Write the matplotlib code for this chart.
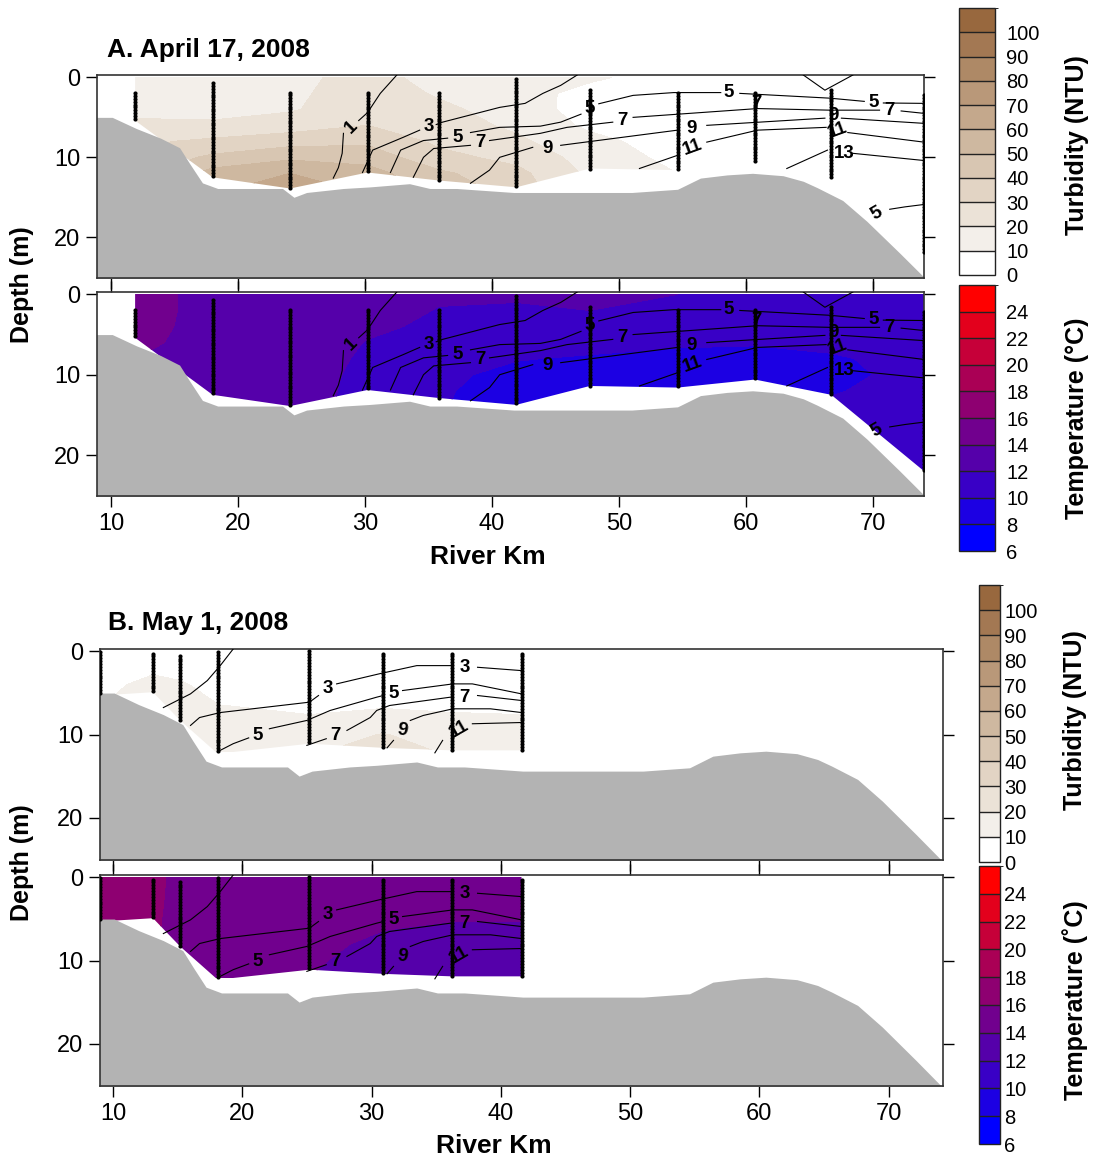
import numpy as np
import matplotlib as mpl
import matplotlib.pyplot as plt
from matplotlib.colors import ListedColormap, BoundaryNorm
from matplotlib.patches import Polygon

plt.rcParams['font.family'] = ['Liberation Sans', 'DejaVu Sans']
nan = np.nan

# bottom profile of the river (km, depth m)
bath_km = [8.5, 10.1, 12.0, 13.9, 15.4, 16.2, 17.2, 18.4, 23.5, 24.4, 25.4, 28.3, 30.4, 33.5,
           35.1, 37.2, 41.7, 51.0, 54.6, 56.4, 58.5, 60.5, 62.9, 64.5, 65.6, 67.6, 69.5, 72.1,
           74.0, 75.0]
bath_z = [5.0, 5.0, 6.4, 7.6, 8.8, 10.8, 13.2, 13.9, 13.9, 15.0, 14.4, 13.9, 13.7, 13.3,
          13.9, 13.9, 14.4, 14.4, 14.0, 12.6, 12.2, 12.0, 12.3, 13.0, 13.8, 15.4, 18.0, 22.0,
          25.0, 26.5]

# ---------------- A. April 17, 2008 ----------------
a_km = [11.9, 18.0, 24.1, 30.2, 35.8, 41.9, 47.7, 54.6, 60.7, 66.7, 74.0]
a_top = [2.0, 0.75, 1.9, 1.9, 2.0, 0.25, 1.6, 2.0, 2.0, 1.6, 2.25]
a_bot = [5.4, 12.5, 13.9, 11.9, 12.9, 13.75, 11.4, 11.6, 10.6, 12.5, 22.0]
a_depth = [0, 2, 4, 6, 8, 10, 12, 14, 16, 18, 20, 22]

# turbidity (NTU), one profile per station
a_turb = [
    [15, 15, 16, 23, 28, 32, 35, 38, 40, 40, 40, 40],
    [14, 14, 16, 22, 32, 42, 54, 58, 60, 60, 60, 60],
    [17, 18, 19, 25, 36, 48, 60, 66, 66, 66, 66, 66],
    [24, 25, 26, 30, 38, 46, 54, 58, 58, 58, 58, 58],
    [16, 19, 22, 25, 28, 33, 42, 46, 46, 46, 46, 46],
    [14, 15, 16, 18, 22, 27, 33, 36, 36, 36, 36, 36],
    [12, 6, 5, 8, 13, 16, 18, 18, 18, 18, 18, 18],
    [4, 4, 4, 4, 5, 7, 10, 11, 11, 11, 11, 11],
    [4, 4, 4, 4, 4, 5, 5, 5, 5, 5, 5, 5],
    [4, 4, 4, 4, 4, 4, 4, 4, 4, 4, 4, 4],
    [4, 4, 4, 4, 4, 4, 4, 4, 4, 4, 4, 4],
]
# temperature (deg C), one profile per station
a_temp = [
    [14.6, 14.6, 14.5, 14.3, 14.0, 13.6, 13.5, 13.5, 13.5, 13.5, 13.5, 13.5],
    [13.5, 13.5, 13.5, 13.5, 13.5, 13.5, 13.5, 13.5, 13.5, 13.5, 13.5, 13.5],
    [13.4, 13.4, 13.4, 13.4, 13.4, 13.4, 13.4, 13.4, 13.4, 13.4, 13.4, 13.4],
    [13.3, 12.9, 12.4, 11.9, 11.6, 11.3, 11.1, 11.0, 11.0, 11.0, 11.0, 11.0],
    [12.3, 11.9, 11.6, 11.2, 10.8, 10.4, 10.2, 10.1, 10.1, 10.1, 10.1, 10.1],
    [12.2, 11.8, 11.3, 10.7, 10.1, 9.5, 9.3, 9.3, 9.3, 9.3, 9.3, 9.3],
    [12.4, 12.0, 11.3, 10.6, 9.8, 9.3, 9.2, 9.2, 9.2, 9.2, 9.2, 9.2],
    [12.0, 11.5, 10.9, 10.2, 9.6, 9.3, 9.2, 9.2, 9.2, 9.2, 9.2, 9.2],
    [11.6, 11.2, 10.7, 10.1, 9.6, 9.4, 9.3, 9.3, 9.3, 9.3, 9.3, 9.3],
    [11.5, 11.2, 10.8, 10.4, 9.8, 9.6, 9.9, 10.2, 10.4, 10.5, 10.6, 10.7],
    [11.3, 11.2, 11.0, 10.8, 10.6, 10.5, 10.5, 10.5, 10.6, 10.7, 10.8, 10.9],
]

# salinity isolines (km, depth), gaps where the labels sit
a_s1_km = [32.5, 31.2, 30.2, 29.5, nan, 28.3, 28.2, 27.9, 27.5]
a_s1_z = [-0.3, 2.0, 4.4, 5.4, nan, 7.0, 9.5, 11.3, 12.6]
a_s3_km = [29.8, 30.6, 33.0, 34.3, nan, 35.6, 36.1, 40.6, 42.6, 44.0, 45.4, 46.7]
a_s3_z = [11.9, 9.1, 7.5, 6.6, nan, 5.9, 5.6, 3.75, 3.25, 2.0, 1.0, -0.3]
a_s5_km = [32.0, 32.8, 34.6, 36.5, nan, 38.3, 40.6, 43.8, 45.4, 47.0, nan, 48.4, 51.1, 54.3,
           58.0, nan, 59.5, 66.6, 69.3, nan, 70.8, 74.0]
a_s5_z = [11.9, 9.1, 7.9, 7.6, nan, 6.9, 6.25, 6.1, 5.6, 4.6, nan, 3.3, 2.25, 1.9, 1.9, nan,
          2.0, 2.6, 3.0, nan, 3.2, 3.25]
a_s7_km = [33.8, 34.6, 35.4, 38.3, nan, 39.8, 43.8, 45.9, 49.5, nan, 51.1, 60.9, 66.6, 70.5,
           nan, 72.2, 74.0]
a_s7_z = [12.5, 10.0, 8.9, 8.5, nan, 7.9, 7.0, 6.25, 5.6, nan, 5.0, 3.9, 4.1, 4.1, nan, 4.2,
          4.5]
a_s9_km = [38.3, 39.8, 40.6, 43.2, nan, 45.4, 54.6, nan, 56.9, 66.2, nan, 67.5, 74.0]
a_s9_z = [13.25, 11.6, 10.0, 8.75, nan, 8.5, 6.6, nan, 6.0, 5.1, nan, 5.1, 5.75]
a_s11_km = [51.6, 54.6, nan, 56.9, 60.9, 66.3, nan, 68.0, 74.0]
a_s11_z = [11.4, 9.75, nan, 8.1, 6.6, 6.25, nan, 6.9, 8.1]
a_s13_km = [63.2, 66.4, nan, 68.4, 74.0]
a_s13_z = [11.4, 9.1, nan, 9.5, 10.4]
a_s15_km = [71.3, 72.5, 74.0]
a_s15_z = [16.5, 16.2, 15.9]
a_s3b_km = [64.5, 66.2, 68.4]
a_s3b_z = [-0.3, 1.6, -0.3]

a_lab_text = ['1', '3', '5', '5', '5', '5', '7', '7', '7', '7', '9', '9', '9', '11', '11',
              '13', '5']
a_lab_km = [28.9, 35.0, 37.3, 47.7, 58.6, 70.0, 39.1, 50.3, 60.8, 71.3, 44.4, 55.7, 66.85,
            55.8, 67.2, 67.7, 70.3]
a_lab_z = [6.2, 6.2, 7.5, 3.9, 1.9, 3.1, 8.1, 5.4, 3.3, 4.1, 8.9, 6.4, 4.75, 8.75, 6.6, 9.5,
           17.0]
a_lab_rot = [45, 0, 0, 0, 0, 0, 0, 0, 0, 0, 0, 0, 0, 20, 20, 0, 30]

# ---------------- B. May 1, 2008 ----------------
b_km = [9.0, 13.1, 15.2, 18.1, 25.2, 30.9, 36.2, 41.6]
b_top = [0.1, 0.25, 0.5, 0.1, 0.0, 0.25, 0.25, 0.25]
b_bot = [5.3, 4.9, 8.3, 12.3, 11.1, 11.6, 11.9, 11.9]
b_depth = [0, 2, 4, 6, 8, 10, 12]

b_turb = [
    [4, 5, 7, 9, 10, 10, 10],
    [5, 8, 13, 15, 15, 15, 15],
    [5, 7, 11, 14, 15, 15, 15],
    [4, 5, 7, 9.5, 12, 13, 13],
    [3, 4, 6, 8, 10.5, 15, 19],
    [3, 4, 6, 8.5, 12, 20.5, 23],
    [3, 4, 6, 8, 11, 15, 19],
    [3, 4, 6, 8, 10.5, 13, 14],
]
b_temp = [
    [17.0, 17.0, 16.8, 16.6, 16.5, 16.5, 16.5],
    [16.6, 16.6, 16.5, 16.4, 16.3, 16.3, 16.3],
    [15.3, 15.2, 15.1, 15.0, 14.9, 14.8, 14.8],
    [15.0, 15.0, 14.9, 14.8, 14.7, 14.6, 14.5],
    [15.0, 15.0, 14.9, 14.7, 14.5, 14.2, 14.0],
    [15.0, 14.9, 14.6, 14.1, 13.6, 13.4, 13.3],
    [14.9, 14.7, 14.4, 13.8, 13.4, 13.2, 13.2],
    [14.9, 14.7, 14.4, 13.8, 13.4, 13.2, 13.2],
]

b_s1_km = [19.3, 18.3, 17.3, 16.0, 13.9]
b_s1_z = [-0.3, 1.7, 3.5, 5.1, 6.75]
b_s3_km = [16.0, 16.7, 18.3, 25.2, 25.9, nan, 27.3, 30.7, 33.5, 36.2, nan, 38.2, 41.6]
b_s3_z = [8.9, 7.95, 7.35, 6.1, 5.3, nan, 3.9, 2.65, 1.7, 1.7, nan, 1.9, 2.3]
b_s5_km = [18.3, 19.3, 20.5, nan, 22.1, 25.0, 26.8, 30.4, 30.9, nan, 32.4, 36.3, 37.8, 41.6]
b_s5_z = [11.9, 11.1, 10.4, nan, 9.3, 8.3, 7.1, 5.5, 5.3, nan, 4.7, 3.9, 3.9, 5.1]
b_s7_km = [25.0, 26.5, nan, 28.1, 29.9, 30.4, 31.4, 36.1, nan, 38.2, 41.6]
b_s7_z = [11.3, 10.5, nan, 9.5, 7.95, 7.1, 6.5, 5.5, nan, 5.3, 5.9]
b_s9_km = [31.2, 31.7, nan, 33.0, 34.0, 36.3, 39.2, 41.6]
b_s9_z = [11.6, 10.7, nan, 8.3, 7.7, 6.9, 6.9, 7.35]
b_s11_km = [34.9, 35.5, nan, 37.8, 41.6]
b_s11_z = [12.2, 10.7, nan, 8.7, 8.55]

b_lab_text = ['3', '3', '5', '5', '7', '7', '9', '11']
b_lab_km = [26.6, 37.2, 21.2, 31.7, 27.2, 37.2, 32.35, 36.8]
b_lab_z = [4.5, 1.9, 10.1, 5.1, 10.1, 5.5, 9.5, 9.3]
b_lab_rot = [0, 0, 0, 0, 0, 0, -10, 30]

# ---------------- colour scales ----------------
turb_levels = list(range(0, 120, 10))
turb_colors = ['#ffffff', '#f3efea', '#ebe2d7', '#e2d4c4', '#d8c6b2', '#ceb8a0', '#c4a88c',
               '#b99879', '#ae8966', '#a37853', '#98683e']
temp_levels = list(range(6, 28, 2))
temp_colors = ['#0000ff', '#1c00e3', '#3900c6', '#5500aa', '#71008e', '#8e0071', '#aa0055',
               '#c60039', '#e3001c', '#ff0000']
turb_cmap = ListedColormap(turb_colors)
turb_norm = BoundaryNorm(turb_levels, turb_cmap.N)
temp_cmap = ListedColormap(temp_colors)
temp_norm = BoundaryNorm(temp_levels, temp_cmap.N)

W, H = 1097, 1162
fig = plt.figure(figsize=(W / 100, H / 100), dpi=100)


def box(x0, y0, x1, y1):
    return [x0 / W, 1 - y1 / H, (x1 - x0) / W, (y1 - y0) / H]


def panel(ax, km, top, bot, depth, field, cmap, norm, levels, lines, labs, xlim, upper):
    cs = ax.contourf(km, depth, np.array(field).T, levels=levels, cmap=cmap, norm=norm,
                     zorder=1)
    verts = [(km[0], -1), (km[-1], -1)] + list(zip(km[::-1], bot[::-1]))
    clip = Polygon(verts, closed=True, transform=ax.transData)
    cs.set_clip_path(clip)
    ax.fill_between(bath_km, bath_z, 30, color='#b3b3b3', lw=0, zorder=2)
    for xs, zs in lines:
        ax.plot(xs, zs, color='k', lw=0.8, zorder=3)
    for k, t, b in zip(km, top, bot):
        zz = np.arange(t, b + 0.01, 0.35)
        ax.plot([k] * len(zz), zz, 'o', color='k', ms=3.0, mew=0, zorder=4)
    for txt, x, z, r in zip(*labs):
        ax.text(x, z, txt, fontsize=13.5, fontweight='bold', rotation=r, ha='center',
                va='center', zorder=5)
    ax.set_xlim(*xlim)
    ax.set_ylim(25.1, -0.3)
    ax.set_xticks(range(10, 80, 10))
    ax.set_yticks([0, 10, 20])
    ax.tick_params(direction='out', length=8, width=1, labelsize=17, left=True, right=True,
                   top=not upper, bottom=True, labelbottom=not upper, labeltop=False,
                   labelright=False, pad=4)
    for sp in ax.spines.values():
        sp.set_color('#333333')
        sp.set_linewidth(1.2)


def cbar(rect, cmap, norm, ticks, pad):
    cax = fig.add_axes(rect)
    cb = fig.colorbar(mpl.cm.ScalarMappable(norm=norm, cmap=cmap), cax=cax, ticks=ticks,
                      drawedges=True)
    cb.outline.set_edgecolor('#222222')
    cb.outline.set_linewidth(1.0)
    cb.dividers.set_color('#222222')
    cb.dividers.set_linewidth(1.0)
    cax.tick_params(length=0, labelsize=14.5, pad=pad)


a_lines = [(a_s1_km, a_s1_z), (a_s3_km, a_s3_z), (a_s5_km, a_s5_z), (a_s7_km, a_s7_z),
           (a_s9_km, a_s9_z), (a_s11_km, a_s11_z), (a_s13_km, a_s13_z), (a_s15_km, a_s15_z),
           (a_s3b_km, a_s3b_z)]
a_labs = (a_lab_text, a_lab_km, a_lab_z, a_lab_rot)
b_lines = [(b_s1_km, b_s1_z), (b_s3_km, b_s3_z), (b_s5_km, b_s5_z), (b_s7_km, b_s7_z),
           (b_s9_km, b_s9_z), (b_s11_km, b_s11_z)]
b_labs = (b_lab_text, b_lab_km, b_lab_z, b_lab_rot)

ax1 = fig.add_axes(box(97, 75, 924, 278))
panel(ax1, a_km, a_top, a_bot, a_depth, a_turb, turb_cmap, turb_norm, turb_levels,
      a_lines, a_labs, (8.9, 74.0), True)
ax2 = fig.add_axes(box(97, 292, 924, 496))
panel(ax2, a_km, a_top, a_bot, a_depth, a_temp, temp_cmap, temp_norm, temp_levels,
      a_lines, a_labs, (8.9, 74.0), False)
ax3 = fig.add_axes(box(100, 649, 943, 860))
panel(ax3, b_km, b_top, b_bot, b_depth, b_turb, turb_cmap, turb_norm, turb_levels,
      b_lines, b_labs, (9.0, 74.2), True)
ax4 = fig.add_axes(box(100, 875, 943, 1086))
panel(ax4, b_km, b_top, b_bot, b_depth, b_temp, temp_cmap, temp_norm, temp_levels,
      b_lines, b_labs, (9.0, 74.2), False)

cbar(box(959, 8, 995, 275), turb_cmap, turb_norm, range(0, 110, 10), 8)
cbar(box(959, 285, 995, 551), temp_cmap, temp_norm, range(6, 26, 2), 8)
cbar(box(979, 585, 1000, 862), turb_cmap, turb_norm, range(0, 110, 10), 3)
cbar(box(979, 866, 1000, 1144), temp_cmap, temp_norm, range(6, 26, 2), 3)

bold = dict(fontsize=18, fontweight='bold')
big = dict(fontsize=19, fontweight='bold')
fig.text(107 / W, 1 - 50 / H, 'A. April 17, 2008', ha='left', va='center', **big)
fig.text(108 / W, 1 - 623 / H, 'B. May 1, 2008', ha='left', va='center', **big)
fig.text(22 / W, 1 - 285 / H, 'Depth (m)', rotation=90, ha='center', va='center', **bold)
fig.text(22 / W, 1 - 863 / H, 'Depth (m)', rotation=90, ha='center', va='center', **bold)
fig.text(488 / W, 1 - 557 / H, 'River Km', ha='center', va='center', **big)
fig.text(494 / W, 1 - 1146 / H, 'River Km', ha='center', va='center', **big)
fig.text(1077 / W, 1 - 145 / H, 'Turbidity (NTU)', rotation=90, ha='center', va='center',
         **bold)
fig.text(1077 / W, 1 - 418 / H, 'Temperature (°C)', rotation=90, ha='center', va='center',
         **bold)
fig.text(1075 / W, 1 - 720 / H, 'Turbidity (NTU)', rotation=90, ha='center', va='center',
         **bold)
fig.text(1075 / W, 1 - 1000 / H, 'Temperature (˚C)', rotation=90, ha='center', va='center',
         **bold)

fig.savefig('out.png', dpi=100)
